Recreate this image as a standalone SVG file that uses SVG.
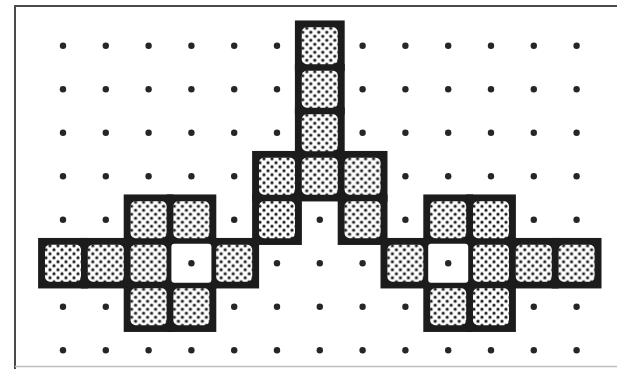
<svg xmlns="http://www.w3.org/2000/svg" width="617" height="369" viewBox="0 0 617 369">
<style>
.blk{fill:#1c1c1c}
.in{fill:url(#lace)}
.hole{fill:#ffffff}
.dot{fill:#262626}
.frame{fill:none;stroke:#4a4a4a;stroke-width:2}
.fb{fill:none;stroke:#bdbdbd;stroke-width:1.5}
</style>
<defs>
<pattern id="lace" patternUnits="userSpaceOnUse" width="8" height="8" x="1" y="1">
<rect width="8" height="8" fill="#1c1c1c"/>
<circle cx="0" cy="0" r="3.1" fill="#fff"/><circle cx="8" cy="0" r="3.1" fill="#fff"/>
<circle cx="0" cy="8" r="3.1" fill="#fff"/><circle cx="8" cy="8" r="3.1" fill="#fff"/>
<circle cx="4" cy="4" r="3.1" fill="#fff"/>
<circle cx="4" cy="0" r="1.6" fill="#1c1c1c"/><circle cx="0" cy="4" r="1.6" fill="#1c1c1c"/>
<circle cx="8" cy="4" r="1.6" fill="#1c1c1c"/><circle cx="4" cy="8" r="1.6" fill="#1c1c1c"/>
</pattern>
<rect id="b" width="49.8" height="50.5"/>
<rect id="i" width="36" height="37" rx="5"/>
<circle id="d" r="3.2"/>
</defs>
<rect width="617" height="369" fill="#ffffff"/>
<g id="frame">
<path class="frame" d="M15,369 V6 H617"/>
<path class="fb" d="M15,366.5 H617"/>
</g>
<g id="grid-dots" class="dot">
<use href="#d" x="63" y="45.7"/><use href="#d" x="105.8" y="45.7"/><use href="#d" x="148.6" y="45.7"/><use href="#d" x="191.4" y="45.7"/><use href="#d" x="234.2" y="45.7"/><use href="#d" x="277" y="45.7"/><use href="#d" x="362.6" y="45.7"/><use href="#d" x="405.4" y="45.7"/><use href="#d" x="448.2" y="45.7"/><use href="#d" x="491" y="45.7"/><use href="#d" x="533.8" y="45.7"/><use href="#d" x="576.6" y="45.7"/>
<use href="#d" x="63" y="89.2"/><use href="#d" x="105.8" y="89.2"/><use href="#d" x="148.6" y="89.2"/><use href="#d" x="191.4" y="89.2"/><use href="#d" x="234.2" y="89.2"/><use href="#d" x="277" y="89.2"/><use href="#d" x="362.6" y="89.2"/><use href="#d" x="405.4" y="89.2"/><use href="#d" x="448.2" y="89.2"/><use href="#d" x="491" y="89.2"/><use href="#d" x="533.8" y="89.2"/><use href="#d" x="576.6" y="89.2"/>
<use href="#d" x="63" y="132.7"/><use href="#d" x="105.8" y="132.7"/><use href="#d" x="148.6" y="132.7"/><use href="#d" x="191.4" y="132.7"/><use href="#d" x="234.2" y="132.7"/><use href="#d" x="277" y="132.7"/><use href="#d" x="362.6" y="132.7"/><use href="#d" x="405.4" y="132.7"/><use href="#d" x="448.2" y="132.7"/><use href="#d" x="491" y="132.7"/><use href="#d" x="533.8" y="132.7"/><use href="#d" x="576.6" y="132.7"/>
<use href="#d" x="63" y="176.2"/><use href="#d" x="105.8" y="176.2"/><use href="#d" x="148.6" y="176.2"/><use href="#d" x="191.4" y="176.2"/><use href="#d" x="234.2" y="176.2"/><use href="#d" x="405.4" y="176.2"/><use href="#d" x="448.2" y="176.2"/><use href="#d" x="491" y="176.2"/><use href="#d" x="533.8" y="176.2"/><use href="#d" x="576.6" y="176.2"/>
<use href="#d" x="63" y="219.7"/><use href="#d" x="105.8" y="219.7"/><use href="#d" x="234.2" y="219.7"/><use href="#d" x="319.8" y="219.7"/><use href="#d" x="405.4" y="219.7"/><use href="#d" x="533.8" y="219.7"/><use href="#d" x="576.6" y="219.7"/>
<use href="#d" x="277" y="263.2"/><use href="#d" x="319.8" y="263.2"/><use href="#d" x="362.6" y="263.2"/>
<use href="#d" x="63" y="306.7"/><use href="#d" x="105.8" y="306.7"/><use href="#d" x="234.2" y="306.7"/><use href="#d" x="277" y="306.7"/><use href="#d" x="319.8" y="306.7"/><use href="#d" x="362.6" y="306.7"/><use href="#d" x="405.4" y="306.7"/><use href="#d" x="533.8" y="306.7"/><use href="#d" x="576.6" y="306.7"/>
<use href="#d" x="63" y="350.2"/><use href="#d" x="105.8" y="350.2"/><use href="#d" x="148.6" y="350.2"/><use href="#d" x="191.4" y="350.2"/><use href="#d" x="234.2" y="350.2"/><use href="#d" x="277" y="350.2"/><use href="#d" x="319.8" y="350.2"/><use href="#d" x="362.6" y="350.2"/><use href="#d" x="405.4" y="350.2"/><use href="#d" x="448.2" y="350.2"/><use href="#d" x="491" y="350.2"/><use href="#d" x="533.8" y="350.2"/><use href="#d" x="576.6" y="350.2"/>
</g>
<g id="tower">
<g class="blk">
<use href="#b" x="294.9" y="20.45"/><use href="#b" x="294.9" y="63.95"/><use href="#b" x="294.9" y="107.45"/><use href="#b" x="294.9" y="150.95"/>
<use href="#b" x="252.1" y="150.95"/><use href="#b" x="337.7" y="150.95"/>
<use href="#b" x="252.1" y="194.45"/><use href="#b" x="337.7" y="194.45"/>
</g>
<g class="in">
<use href="#i" x="301.8" y="27.2"/><use href="#i" x="301.8" y="70.7"/><use href="#i" x="301.8" y="114.2"/><use href="#i" x="301.8" y="157.7"/>
<use href="#i" x="259" y="157.7"/><use href="#i" x="344.6" y="157.7"/>
<use href="#i" x="259" y="201.2"/><use href="#i" x="344.6" y="201.2"/>
</g>
</g>
<g id="left-cross">
<g class="blk">
<use href="#b" x="123.7" y="194.45"/><use href="#b" x="166.5" y="194.45"/>
<use href="#b" x="38.1" y="237.95"/><use href="#b" x="80.9" y="237.95"/><use href="#b" x="123.7" y="237.95"/><use href="#b" x="166.5" y="237.95"/><use href="#b" x="209.3" y="237.95"/>
<use href="#b" x="123.7" y="281.45"/><use href="#b" x="166.5" y="281.45"/>
</g>
<g class="in">
<use href="#i" x="130.6" y="201.2"/><use href="#i" x="173.4" y="201.2"/>
<use href="#i" x="45" y="244.7"/><use href="#i" x="87.8" y="244.7"/><use href="#i" x="130.6" y="244.7"/><use href="#i" x="216.2" y="244.7"/>
<use href="#i" x="130.6" y="288.2"/><use href="#i" x="173.4" y="288.2"/>
</g>
<rect class="hole" x="171.4" y="243.7" width="40" height="39" rx="3"/>
<use class="dot" href="#d" x="191.4" y="263.2"/>
</g>
<g id="right-cross">
<g class="blk">
<use href="#b" x="423.3" y="194.45"/><use href="#b" x="466.1" y="194.45"/>
<use href="#b" x="380.5" y="237.95"/><use href="#b" x="423.3" y="237.95"/><use href="#b" x="466.1" y="237.95"/><use href="#b" x="508.9" y="237.95"/><use href="#b" x="551.7" y="237.95"/>
<use href="#b" x="423.3" y="281.45"/><use href="#b" x="466.1" y="281.45"/>
</g>
<g class="in">
<use href="#i" x="430.2" y="201.2"/><use href="#i" x="473" y="201.2"/>
<use href="#i" x="387.4" y="244.7"/><use href="#i" x="473" y="244.7"/><use href="#i" x="515.8" y="244.7"/><use href="#i" x="558.6" y="244.7"/>
<use href="#i" x="430.2" y="288.2"/><use href="#i" x="473" y="288.2"/>
</g>
<rect class="hole" x="428.2" y="243.7" width="40" height="39" rx="3"/>
<use class="dot" href="#d" x="448.2" y="263.2"/>
</g>
</svg>
